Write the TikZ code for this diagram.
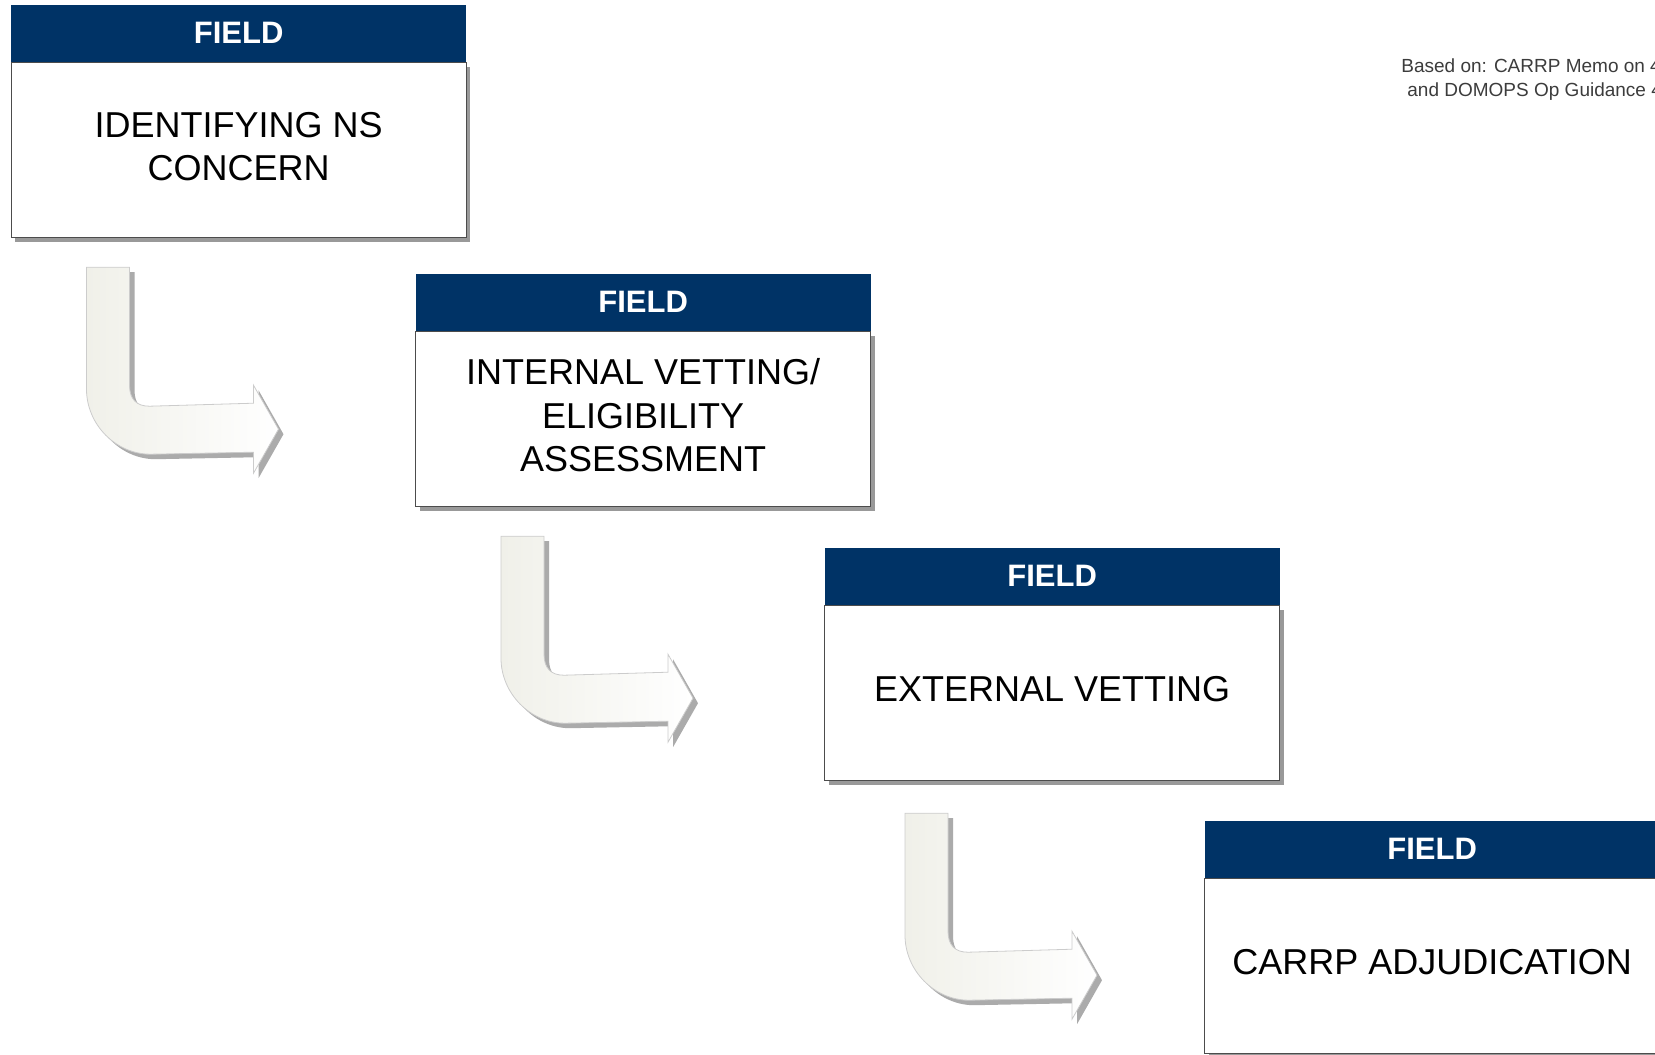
\documentclass[tikz,border=0pt]{standalone}
\usepackage{fontspec}
\setmainfont{Liberation Sans}
\usetikzlibrary{positioning, calc, shadows}
\definecolor{fieldblue}{RGB}{0,51,102}
\definecolor{notegray}{RGB}{60,60,60}
\definecolor{arrowtint}{RGB}{240,240,233}
\tikzset{
  stagebox/.style={draw=black!70, fill=white, line width=0.6pt, inner sep=0pt,
    minimum width=227.5pt, minimum height=87.5pt, align=center, text depth=4pt,
    font=\fontsize{18}{21.6}\selectfont,
    drop shadow={shadow xshift=2pt, shadow yshift=-2pt, fill=black!40, opacity=1}},
  fieldhead/.style={fill=fieldblue, text=white, inner sep=0pt,
    minimum width=227.5pt, minimum height=28.5pt,
    font=\fontsize{15.5}{18}\selectfont\bfseries},
  arrowbody/.style={draw=black!20, line width=0.4pt, left color=arrowtint, right color=white,
    drop shadow={shadow xshift=2.5pt, shadow yshift=-2.5pt, fill=black!33, opacity=1}},
  notetext/.style={text=notegray, inner sep=0pt, anchor=base west,
    font=\fontsize{9.5}{11}\selectfont},
  bentarrow/.pic={
    \path[arrowbody] (0,0) -- (43,0) -- (43,118)
      .. controls (43,132) and (50,139) .. (63,139)
      -- (167,136) -- (167,118) -- (192,162) -- (167,206) -- (167,185)
      -- (64,187) .. controls (29,187) and (0,157) .. (0,122) -- cycle;
  }
}

\begin{document}
\begin{tikzpicture}[x=0.5pt, y=-0.5pt]
\useasboundingbox (0,0) rectangle (1655,1055);
\clip (0,0) rectangle (1655,1055);

\node[notetext] (note1) at (1401,72) {Based on: CARRP Memo on 4};
\node[notetext] (note2) at (1407,96) {and DOMOPS Op Guidance 4};

\node[stagebox, anchor=north west] (idns) at (10.5,62) {IDENTIFYING NS\\CONCERN};
\node[fieldhead, above=0pt of idns] (idns-h) {FIELD};

\node[stagebox, anchor=north west] (invet) at (415,331) {INTERNAL VETTING/\\ELIGIBILITY\\ASSESSMENT};
\node[fieldhead, above=0pt of invet] (invet-h) {FIELD};

\node[stagebox, anchor=north west] (exvet) at (824,605) {EXTERNAL VETTING};
\node[fieldhead, above=0pt of exvet] (exvet-h) {FIELD};

\node[stagebox, anchor=north west] (adjud) at (1204,878) {CARRP ADJUDICATION};
\node[fieldhead, above=0pt of adjud] (adjud-h) {FIELD};

\pic at ($(idns.south west)+(76,29)$) {bentarrow};
\pic at ($(invet.south west)+(86,29)$) {bentarrow};
\pic at ($(exvet.south west)+(81,32)$) {bentarrow};
\end{tikzpicture}
\end{document}
